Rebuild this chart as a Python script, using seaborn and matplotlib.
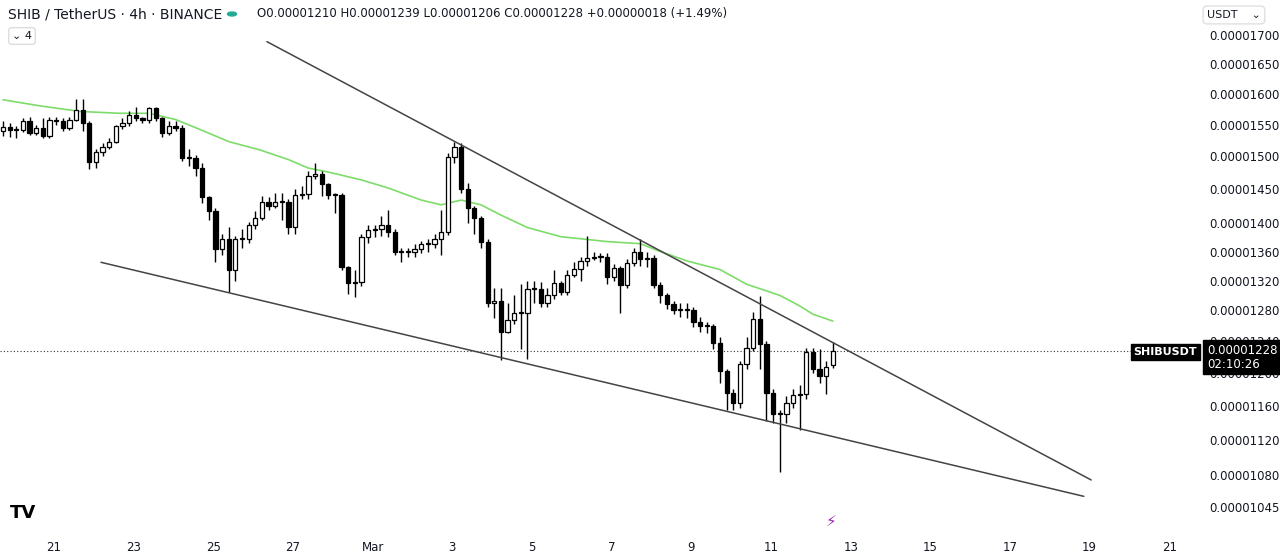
import matplotlib
matplotlib.use("Agg")
import matplotlib.pyplot as plt
import seaborn as sns
import pandas as pd
import numpy as np
from matplotlib.patches import Rectangle, Circle
from matplotlib.ticker import FixedLocator, NullLocator

# prices in units of 1e-8 USDT
closes = [1546,1542,1542,1555,1537,1545,1531,1558,1555,1545,1558,1574,1553,1492,1507,1515,1523,1547,1552,1566,
          1560,1557,1576,1560,1537,1547,1545,1497,1498,1482,1438,1418,1363,1377,1335,1377,1377,1398,1408,1431,
          1425,1431,1431,1395,1441,1443,1470,1473,1458,1441,1441,1339,1317,1318,1381,1390,1392,1398,1388,1359,
          1359,1359,1364,1370,1370,1377,1388,1499,1515,1450,1423,1408,1373,1290,1292,1252,1268,1277,1277,1309,
          1309,1290,1301,1317,1305,1328,1336,1347,1351,1352,1352,1325,1337,1314,1344,1359,1350,1351,1314,1300,
          1288,1280,1280,1280,1265,1259,1259,1238,1202,1176,1164,1211,1232,1269,1236,1176,1150,1150,1164,1173,
          1174,1226,1205,1196,1208,1228]
highs = [1556,1552,1548,1560,1562,1550,1560,1562,1562,1560,1562,1592,1592,1556,1512,1520,1528,1550,1560,1572,
         1578,1562,1578,1578,1562,1555,1555,1550,1512,1502,1490,1440,1422,1385,1395,1382,1392,1402,1418,1440,
         1438,1445,1445,1435,1450,1455,1478,1490,1478,1460,1445,1445,1340,1335,1385,1398,1398,1410,1420,1392,
         1365,1365,1370,1375,1378,1385,1420,1505,1522,1521,1460,1425,1410,1378,1310,1310,1290,1300,1315,1320,
         1320,1318,1310,1335,1320,1335,1345,1352,1382,1360,1358,1358,1342,1340,1350,1365,1377,1360,1355,1318,
         1303,1292,1290,1290,1284,1272,1265,1262,1245,1205,1180,1215,1245,1278,1299,1240,1180,1155,1172,1180,
         1185,1232,1232,1230,1215,1239]
lows = [1532,1530,1528,1538,1534,1533,1528,1528,1550,1540,1542,1555,1540,1480,1482,1500,1512,1520,1543,1548,
        1556,1552,1552,1555,1530,1533,1540,1493,1485,1470,1430,1405,1345,1355,1304,1320,1365,1372,1392,1405,
        1420,1422,1405,1385,1385,1435,1435,1465,1440,1435,1415,1335,1302,1298,1312,1372,1380,1382,1380,1355,
        1345,1352,1352,1358,1360,1365,1355,1383,1490,1445,1400,1385,1365,1285,1270,1216,1250,1262,1230,1218,
        1290,1285,1285,1295,1300,1300,1325,1320,1340,1348,1345,1315,1320,1277,1310,1340,1340,1338,1310,1290,
        1282,1275,1272,1270,1258,1252,1250,1230,1188,1155,1155,1158,1205,1228,1205,1142,1140,1084,1140,1158,
        1132,1168,1200,1188,1175,1206]
first_open = 1540
last_open = 1210
opens = [first_open] + closes[:-1]
opens[-1] = last_open

# green moving-average line, sampled at candle indices
ma_idx = [0,5.6,11.6,17.6,22,26,29.7,34,38.7,43,46,49,54,58,63,66,69,72,75,79,84,88,91,96,99,103,108,112,117,120,122,125]
ma_val = [1590,1580,1571,1568,1568,1558,1542,1523,1510,1495,1482,1476,1464,1452,1434,1427,1434,1427,1412,1394,
          1381,1377,1374,1371,1360,1347,1335,1315,1300,1286,1275,1266]

# trend lines (candle index, price)
upper_line = ([39.76, 163.9], [1688, 1075])
lower_line = ([14.76, 162.8], [1345, 1057])

y_ticks = [1700,1650,1600,1550,1500,1450,1400,1360,1320,1280,1240,1200,1160,1120,1080,1045]
x_labels = ["21","23","25","27","Mar","3","5","7","9","11","13","15","17","19","21"]
x_label_days = [0,2,4,6,8,10,12,14,16,18,20,22,24,26,28]   # days after Feb 21
feb21_index = 7.68
last_price = 1228

sns.set_style("white")
fig = plt.figure(figsize=(12.8, 5.6), dpi=100)
ax = fig.add_axes([0, 30/560, 1200/1280, 530/560])
ax.set_yscale("log")

df = pd.DataFrame({"o": opens, "c": closes, "h": highs, "l": lows})
df["i"] = np.arange(len(df))
for _, r in df.iterrows():
    up = r.c >= r.o
    ax.vlines(r.i, r.l, r.h, color="black", lw=1, zorder=2)
    lo, hi = min(r.o, r.c), max(r.o, r.c)
    if hi - lo < 1.5:
        hi = lo + 1.5
    ax.add_patch(Rectangle((r.i - 0.32, lo), 0.64, hi - lo, facecolor="white" if up else "black",
                           edgecolor="black", lw=0.9, zorder=3))

sns.lineplot(x=ma_idx, y=ma_val, ax=ax, color="#7ddc6a", lw=1.2, zorder=1)
ax.plot(*upper_line, color="#444444", lw=1.1, zorder=4)
ax.plot(*lower_line, color="#444444", lw=1.1, zorder=4)
ax.axhline(last_price, color="#333333", lw=0.8, ls=(0, (1, 2)), zorder=0)

ax.set_xlim(-0.45, 180.3)
ax.set_ylim(1021, 1762)
ax.yaxis.set_major_locator(FixedLocator(y_ticks))
ax.yaxis.set_minor_locator(NullLocator())
ax.set_yticklabels([f"0.0000{v:04d}" for v in y_ticks])
ax.yaxis.tick_right()
ax.tick_params(axis="y", length=0, labelsize=8.5, colors="#131722", pad=7)
ax.set_xticks([feb21_index + 6 * d for d in x_label_days])
ax.set_xticklabels(x_labels)
ax.tick_params(axis="x", length=0, labelsize=8.5, colors="#131722", pad=8)
for s in ax.spines.values():
    s.set_visible(False)

# header
fig.text(8/1280, 1 - 14/560, "SHIB / TetherUS · 4h · BINANCE", fontsize=10, va="center", color="#131722")
fig.add_artist(Circle((232/1280, 1 - 14/560), 0.0035, transform=fig.transFigure, color="#22ab94"))
fig.text(257/1280, 1 - 14/560, "O0.00001210 H0.00001239 L0.00001206 C0.00001228 +0.00000018 (+1.49%)",
         fontsize=8.5, va="center", color="#131722")
fig.text(12/1280, 1 - 36/560, "⌄ 4", fontsize=8, va="center", color="#131722",
         bbox=dict(boxstyle="round,pad=0.3", fc="white", ec="#dddddd"))
fig.text(1207/1280, 1 - 15/560, "USDT    ⌄", fontsize=8, va="center", color="#131722",
         bbox=dict(boxstyle="round,pad=0.35", fc="white", ec="#e0e0e0"))
# price labels
fig.text(1197/1280, 1 - 352/560, "SHIBUSDT", fontsize=8, va="center", ha="right", color="white", weight="bold",
         bbox=dict(boxstyle="square,pad=0.25", fc="black", ec="black"))
fig.text(1207/1280, 1 - 357/560, "0.00001228\n02:10:26", fontsize=8.5, va="center", color="white",
         linespacing=1.1, zorder=10, bbox=dict(boxstyle="square,pad=0.3", fc="black", ec="black"))
fig.text(10/1280, 1 - 513/560, "TV", fontsize=13, weight="bold", va="center", color="black")
fig.text(831/1280, 1 - 521/560, "⚡", fontsize=11, va="center", ha="center", color="#9c27b0")

fig.savefig("out.png", dpi=100, facecolor="white")
